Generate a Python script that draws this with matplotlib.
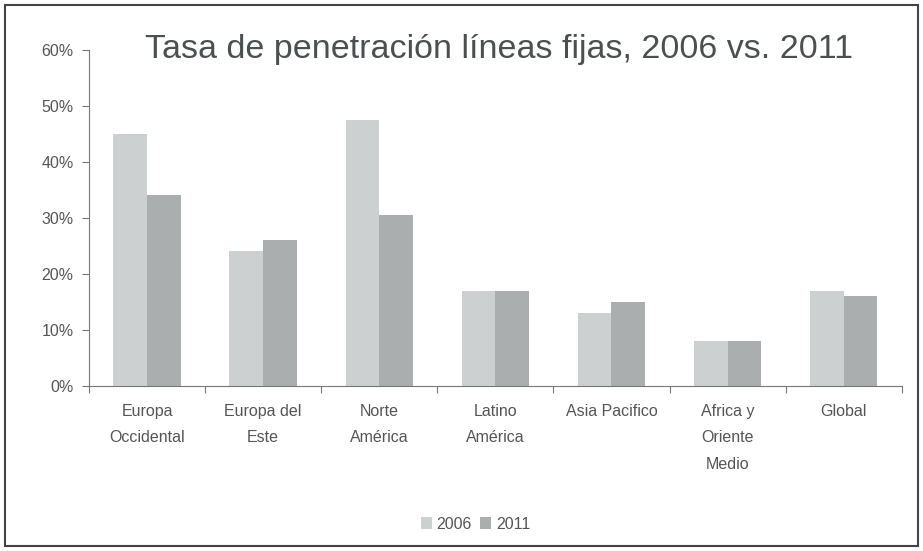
import numpy as np
import matplotlib.pyplot as plt
from matplotlib.patches import Rectangle

plt.rcParams['font.family'] = ['Liberation Sans', 'DejaVu Sans']

# datos de penetración de líneas fijas por región
regiones = ['Europa\nOccidental', 'Europa del\nEste', 'Norte\nAmérica', 'Latino\nAmérica',
            'Asia Pacifico', 'Africa y\nOriente\nMedio', 'Global']
pen_2006 = [45, 24, 47.5, 17, 13, 8, 17]
pen_2011 = [34, 26, 30.5, 17, 15, 8, 16]

fig = plt.figure(figsize=(9.23, 5.51), dpi=100)
ax = fig.add_axes([0.0964, 0.2995, 0.8806, 0.6105])

x = np.arange(len(regiones))
w = 0.29
ax.bar(x - w / 2, pen_2006, w, color='#cdd0d0', label='2006')
ax.bar(x + w / 2, pen_2011, w, color='#aaaeae', label='2011')

ax.set_xlim(-0.5, len(regiones) - 0.5)
ax.set_ylim(0, 60)
ax.set_yticks(range(0, 61, 10))
ax.set_yticklabels(['%d%%' % v for v in range(0, 61, 10)], fontsize=11.5, color='#555555')

# marcas entre categorías, etiquetas centradas
ax.set_xticks(np.arange(-0.5, len(regiones)), minor=False)
ax.set_xticklabels([])
ax.set_xticks(x, minor=True)
ax.set_xticklabels(regiones, minor=True, fontsize=11.5, color='#555555', linespacing=1.95)
ax.tick_params(axis='x', which='minor', length=0, pad=13)
ax.tick_params(axis='x', which='major', length=5, color='#777777')
ax.tick_params(axis='y', length=5, color='#777777', pad=6)

for s in ['top', 'right']:
    ax.spines[s].set_visible(False)
for s in ['left', 'bottom']:
    ax.spines[s].set_color('#777777')

fig.text(0.541, 0.91, 'Tasa de penetración líneas fijas, 2006 vs. 2011',
         ha='center', va='center', fontsize=24.5, color='#4a5050')

fig.legend(loc='center', bbox_to_anchor=(0.515, 0.049), ncol=2, frameon=False,
           fontsize=11.5, handlelength=0.7, handleheight=0.7, handletextpad=0.3,
           columnspacing=0.5, labelcolor='#555555')

# marco exterior
fig.patches.append(Rectangle((5 / 923, 5 / 551), 913 / 923, 541 / 551, transform=fig.transFigure,
                             fill=False, edgecolor='#444444', linewidth=1.5))

fig.savefig('out.png', dpi=100)
